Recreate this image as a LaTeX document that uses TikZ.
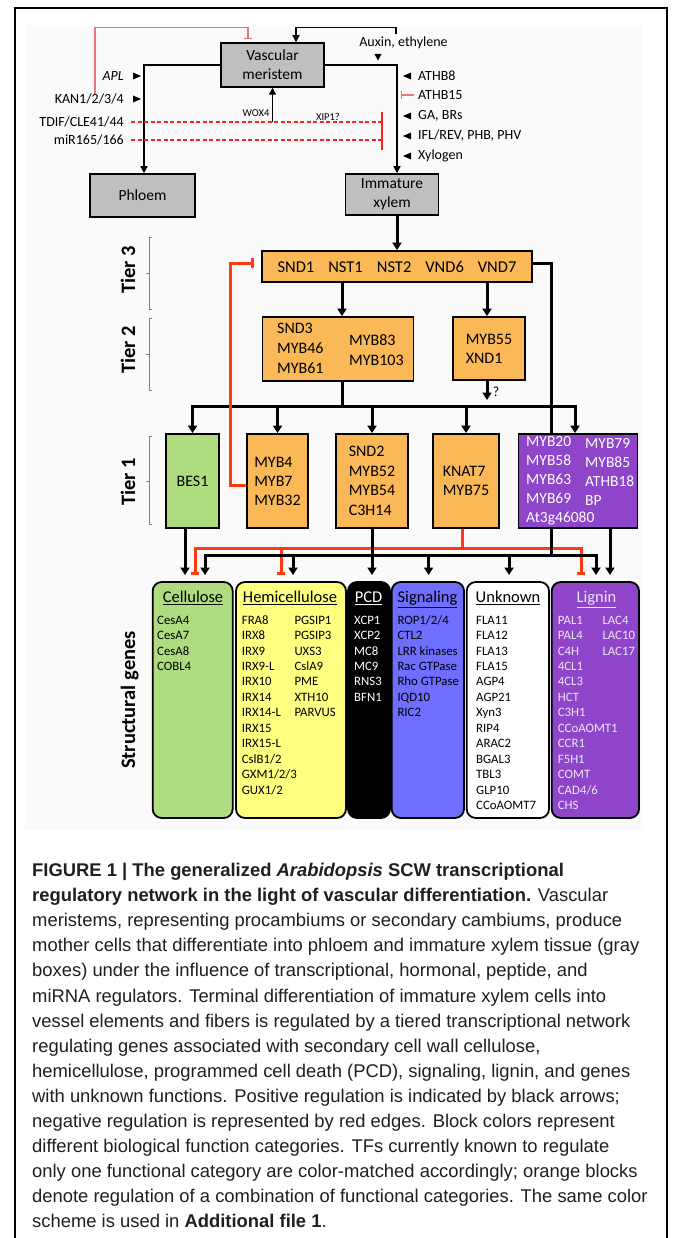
\documentclass[tikz,border=0pt]{standalone}
\usepackage{fontspec}
\setmainfont{Carlito}
\newfontfamily\capfont{Liberation Sans}
\usetikzlibrary{arrows.meta,calc}
\newcommand\fsz[2]{\fontsize{#1}{#2}\selectfont}
\definecolor{gbox}{HTML}{BFBFBF}
\definecolor{orng}{HTML}{FAB856}
\definecolor{grn}{HTML}{AFDC7E}
\definecolor{purp}{HTML}{8E45C9}
\definecolor{blu}{HTML}{6E6EFF}
\definecolor{yel}{HTML}{FFFF80}
\definecolor{lred}{HTML}{EE7575}
\definecolor{dred}{HTML}{FF2020}
\definecolor{bred}{HTML}{FF3A10}
\definecolor{ligtxt}{HTML}{EFE6F8}
\begin{document}
\begin{tikzpicture}[x=1pt,y=-1pt,
  graybox/.style={draw=black, line width=1.5pt, fill=gbox, inner sep=0pt, align=center, font=\fsz{15.5}{19}},
  tbox/.style={draw=black, line width=1.8pt, fill=orng, inner sep=0pt, align=left, font=\fsz{16}{19.5}},
  tbtxt/.style={inner sep=0pt, align=left, font=\fsz{16}{20}},
  ptxt/.style={inner sep=0pt, align=left, anchor=west, text=white, font=\fsz{15.5}{19}},
  sbox/.style={draw=black, line width=1.8pt, rounded corners=9pt, minimum height=236pt, inner sep=0pt},
  lab/.style={font=\fsz{14}{16}, inner sep=0pt},
  small/.style={font=\fsz{10.5}{12}, inner sep=0pt},
  thinln/.style={line width=1.3pt},
  thinarr/.style={thinln, -{Triangle[length=7pt,width=7pt]}},
  lredln/.style={line width=1.3pt, draw=lred},
  dashred/.style={line width=1.4pt, draw=dred, dash pattern=on 4pt off 2.5pt},
  thk/.style={line width=3pt},
  thkarr/.style={thk, -{Triangle[length=7.5pt,width=9pt]}},
  redthk/.style={line width=3pt, draw=bred},
  redbar/.style={redthk, -{Bar[width=8pt]}},
  gene/.style={font=\fsz{12.8}{15.4}, inner sep=0pt, anchor=base west},
  hdr/.style={font=\fsz{16.5}{19}, inner sep=0pt, anchor=base},
  tier/.style={font=\bfseries\fsz{20.5}{24}, rotate=90, inner sep=0pt, anchor=base},
  brk/.style={draw=black!50, line width=0.8pt},
  tri/.style={fill=black}
]
\useasboundingbox (0,0) rectangle (673,1238);
\fill[white] (0,0) rectangle (673,1238);
\fill[black!2] (25,25) rectangle (643,830);
\draw[line width=2.3pt] (15,1245) -- (15,8) -- (667,8) -- (667,1245);

% ---------- top part ----------
\node[graybox, minimum width=103pt, minimum height=44pt] (vm) at (272.5,65) {Vascular\\meristem};
\node[graybox, minimum width=105pt, minimum height=43pt] (ph) at (142.5,195.5) {Phloem};
\node[graybox, minimum width=93pt, minimum height=41pt] (xy) at (392,194.5) {Immature\\xylem};

\node[lab] (aux) at (403.5,43) {Auxin, ethylene};
\node[lab, anchor=east] (apl) at (124,76) {\textit{APL}};
\node[lab, anchor=east] (kan) at (124,99) {KAN1/2/3/4};
\node[lab, anchor=east] (tdif) at (124,122) {TDIF/CLE41/44};
\node[lab, anchor=east] (mir) at (124,140) {miR165/166};
\node[lab, anchor=west] (athb8) at (418,76) {ATHB8};
\node[lab, anchor=west] (athb15) at (418,95) {ATHB15};
\node[lab, anchor=west] (ga) at (418,116) {GA, BRs};
\node[lab, anchor=west] (ifl) at (418,136) {IFL/REV, PHB, PHV};
\node[lab, anchor=west] (xylo) at (418,156) {Xylogen};
\node[small] (wox) at (256,113) {WOX4};
\node[small] (xip) at (328,117) {XIP1?};

\draw[thinarr] (vm.west) -| ([xshift=1.5pt]ph.north);
\draw[thinarr] (vm.east) -| ([xshift=5pt]xy.north);
\draw[thinarr] ([xshift=-7.5pt,yshift=3pt]aux.north) |- ([xshift=23.5pt,yshift=15pt]vm.north) -- ([xshift=23.5pt]vm.north);
\draw[lredln, -{Bar[width=8pt]}] ([xshift=-29pt]kan.north east) |- ([xshift=-24.5pt,yshift=15pt]vm.north) -- ([xshift=-24.5pt,yshift=3pt]vm.north);

\foreach \yy in {76,99} \fill[tri] (133,\yy-3.5) -- (141,\yy) -- (133,\yy+3.5) -- cycle;
\foreach \yy in {76,116,136,156} \fill[tri] (411,\yy-3.5) -- (403,\yy) -- (411,\yy+3.5) -- cycle;
\fill[tri] (374.5,54) -- (381.5,54) -- (378,60.5) -- cycle;

\coordinate (t15) at (401,95);
\draw[lredln, -{Bar[width=8pt]}] ([xshift=-4pt]athb15.west) -- (t15);

\coordinate (xbar) at (382,131);
\coordinate (xb1) at (382,112);
\coordinate (xb2) at (382,150);
\draw[dashred] ([xshift=7pt]tdif.east) -- (xbar |- tdif.east);
\draw[dashred] ([xshift=7pt]mir.east) -- (xbar |- mir.east);
\draw[line width=2pt, draw=dred] (xb1) -- (xb2);
\draw[thinarr] (vm.south |- tdif.east) -- (vm.south);

% ---------- tiers ----------
\node[tbox, minimum width=270pt, minimum height=31pt, font=\fsz{16.5}{19}] (t3) at (397,266.5)
  {SND1\hspace{14pt}NST1\hspace{14pt}NST2\hspace{14pt}VND6\hspace{14pt}VND7};
\node[tbox, minimum width=151pt, minimum height=64pt] (t2a) at (338,349) {};
\node[tbtxt, anchor=west] (t2al) at (277,348) {SND3\\MYB46\\MYB61};
\node[tbtxt, anchor=west] (t2ar) at (349,350) {MYB83\\MYB103};
\node[tbox, minimum width=72pt, minimum height=63pt, font=\fsz{16}{19}] (t2b) at (489,348.5) {MYB55\\XND1};

\node[tbox, fill=grn, minimum width=53pt, minimum height=94pt] (bes) at (192.5,481) {BES1};
\node[tbox, minimum width=61pt, minimum height=94pt, font=\fsz{16}{19}] (m4) at (277.5,481) {MYB4\\MYB7\\MYB32};
\node[tbox, minimum width=72pt, minimum height=94pt, font=\fsz{16}{19.7}] (snd2) at (372,481) {SND2\\MYB52\\MYB54\\C3H14};
\node[tbox, minimum width=66pt, minimum height=94pt, font=\fsz{16}{19}] (kn) at (466,481) {KNAT7\\MYB75};
\node[tbox, fill=purp, minimum width=119pt, minimum height=94pt] (pur) at (578,481) {};
\node[ptxt] (purl) at (526,481) {MYB20\\MYB58\\MYB63\\MYB69\\At3g46080};
\node[ptxt] (purr) at (585,471.5) {MYB79\\MYB85\\ATHB18\\BP};

\node[tier] (tier3) at (135.2,270) {Tier 3};
\node[tier] (tier2) at (135.2,350) {Tier 2};
\node[tier] (tier1) at (135.2,482) {Tier 1};
\node[tier] (sg) at (135,700) {Structural genes};
\draw[brk] (152,237) -- (149,237) -- (149,309) -- (152,309);
\draw[brk] (149,273) -- (146,273);
\draw[brk] (152,318) -- (149,318) -- (149,390) -- (152,390);
\draw[brk] (149,354) -- (146,354);
\draw[brk] (152,436) -- (149,436) -- (149,524) -- (152,524);
\draw[brk] (149,481) -- (146,481);

\draw[thkarr] (t3.north |- xy.south) -- (t3.north);
\draw[thkarr] ([xshift=4pt]t2a.north |- t3.south) -- ([xshift=4pt]t2a.north);
\draw[thkarr] ([xshift=-2pt]t2b.north |- t3.south) -- ([xshift=-2pt]t2b.north);
\coordinate (qend) at (487,400);
\draw[thkarr] (qend |- t2b.south) -- (qend);
\node[lab] (q) at (496,392) {?};

\coordinate (busy) at (0,406);
\draw[thk] ([xshift=4pt]t2a.south) -- ([xshift=4pt]t2a.south |- busy);
\draw[thk, line cap=rect] (bes.north |- busy) -- ([xshift=-3pt]pur.north |- busy);
\foreach \n in {bes,m4,snd2,kn} \draw[thkarr] (\n.north |- busy) -- (\n.north);
\draw[thkarr] ([xshift=-3pt]pur.north |- busy) -- ([xshift=-3pt]pur.north);
\draw[thk] ([yshift=3pt]t3.east) -| ([xshift=-27pt]pur.north);
\draw[redthk, -{Bar[width=10pt]}] ([yshift=-4pt]m4.west) -- ++(-16,0) |- ([xshift=-7pt,yshift=3pt]t3.west);

% ---------- structural genes ----------
\node[sbox, fill=grn, minimum width=80pt] (cel) at (192.7,700) {};
\node[sbox, fill=yel, minimum width=110pt] (hem) at (291,700) {};
\node[sbox, fill=black, minimum width=42pt] (pcd) at (369,700) {};
\node[sbox, fill=blu, minimum width=72.3pt] (sig) at (427.85,700) {};
\node[sbox, fill=white, minimum width=82.3pt] (unk) at (507.85,700) {};
\node[sbox, fill=purp, minimum width=87.3pt] (lig) at (595.35,700) {};

\node[hdr] (celh) at (193,602.5) {\underline{Cellulose}};
\node[hdr] (hemh) at (290,602.5) {\underline{Hemicellulose}};
\node[hdr, text=white] (pcdh) at (368.5,602.5) {\underline{PCD}};
\node[hdr] (sigh) at (427.5,602.5) {\underline{Signaling}};
\node[hdr] (unkh) at (508,602.5) {\underline{Unknown}};
\node[hdr, text=ligtxt] (ligh) at (596.5,602.5) {\underline{Lignin}};

\foreach \t [count=\i] in {CesA4,CesA7,CesA8,COBL4}
  \node[gene] (cel-\i) at (157,{624.1+15.45*(\i-1)}) {\t};
\foreach \t [count=\i] in {FRA8,IRX8,IRX9,IRX9-L,IRX10,IRX14,IRX14-L,IRX15,IRX15-L,CslB1/2,GXM1/2/3,GUX1/2}
  \node[gene] (hemL-\i) at (241.7,{624.1+15.45*(\i-1)}) {\t};
\foreach \t [count=\i] in {PGSIP1,PGSIP3,UXS3,CslA9,PME,XTH10,PARVUS}
  \node[gene] (hemR-\i) at (294.3,{624.1+15.45*(\i-1)}) {\t};
\foreach \t [count=\i] in {XCP1,XCP2,MC8,MC9,RNS3,BFN1}
  \node[gene, text=white] (pcd-\i) at (354,{624.1+15.45*(\i-1)}) {\t};
\foreach \t [count=\i] in {ROP1/2/4,CTL2,LRR kinases,Rac GTPase,Rho GTPase,IQD10,RIC2}
  \node[gene] (sig-\i) at (397.3,{624.1+15.45*(\i-1)}) {\t};
\foreach \t [count=\i] in {FLA11,FLA12,FLA13,FLA15,AGP4,AGP21,Xyn3,RIP4,ARAC2,BGAL3,TBL3,GLP10,CCoAOMT7}
  \node[gene] (unk-\i) at (476,{624.1+15.45*(\i-1)}) {\t};
\foreach \t [count=\i] in {PAL1,PAL4,C4H,4CL1,4CL3,HCT,C3H1,CCoAOMT1,CCR1,F5H1,COMT,CAD4/6,CHS}
  \node[gene, text=ligtxt] (ligL-\i) at (557.7,{624.1+15.45*(\i-1)}) {\t};
\foreach \t [count=\i] in {LAC4,LAC10,LAC17}
  \node[gene, text=ligtxt] (ligR-\i) at (602.3,{624.1+15.45*(\i-1)}) {\t};

% connectors tier 1 -> structural
\coordinate (rbus) at (0,548);
\coordinate (bbus) at (0,555);
\coordinate (endy) at (0,575);
\draw[redthk] ([xshift=-3.5pt]kn.south) -- ([xshift=-3.5pt]kn.south |- rbus);
\draw[redthk, line cap=rect] ([xshift=2.3pt]cel.north |- rbus) -- ([xshift=-14.3pt]lig.north |- rbus);
\draw[redbar] ([xshift=2.3pt]cel.north |- rbus) -- ([xshift=2.3pt]cel.north |- endy);
\draw[redbar] ([xshift=-10pt]hem.north |- rbus) -- ([xshift=-10pt]hem.north |- endy);
\draw[redbar] ([xshift=-14.3pt]lig.north |- rbus) -- ([xshift=-14.3pt]lig.north |- endy);

\draw[thk] ([xshift=-27pt]pur.south) -- ([xshift=-27pt]pur.south |- bbus);
\draw[thk, line cap=rect] ([xshift=12.3pt]cel.north |- bbus) -- ([xshift=0.65pt]lig.north |- bbus);
\draw[thkarr] ([xshift=12.3pt]cel.north |- bbus) -- ([xshift=12.3pt]cel.north |- endy);
\draw[thkarr] ([xshift=2pt]hem.north |- bbus) -- ([xshift=2pt]hem.north |- endy);
\draw[thkarr] ([xshift=0.75pt]sig.north |- bbus) -- ([xshift=0.75pt]sig.north |- endy);
\draw[thkarr] ([xshift=1.15pt]unk.north |- bbus) -- ([xshift=1.15pt]unk.north |- endy);
\draw[thkarr] ([xshift=0.65pt]lig.north |- bbus) -- ([xshift=0.65pt]lig.north |- endy);
\draw[thkarr] (snd2.south) -- (snd2.south |- endy);
\draw[thkarr] ([xshift=32pt]pur.south) -- ([xshift=32pt]pur.south |- endy);
\draw[thkarr] ([xshift=-7.5pt]bes.south) -- ([xshift=-7.5pt]bes.south |- endy);

% ---------- caption ----------
\node[anchor=north west, inner sep=0pt, align=left, text=black!88, font=\capfont\fsz{18.4}{25.1}] (cap) at (32,863) {%
\textbf{FIGURE 1 | The generalized \textit{Arabidopsis} SCW transcriptional}\\
\textbf{regulatory network in the light of vascular differentiation.} Vascular\\
meristems, representing procambiums or secondary cambiums, produce\\
mother cells that differentiate into phloem and immature xylem tissue (gray\\
boxes) under the influence of transcriptional, hormonal, peptide, and\\
miRNA regulators. Terminal differentiation of immature xylem cells into\\
vessel elements and fibers is regulated by a tiered transcriptional network\\
regulating genes associated with secondary cell wall cellulose,\\
hemicellulose, programmed cell death (PCD), signaling, lignin, and genes\\
with unknown functions. Positive regulation is indicated by black arrows;\\
negative regulation is represented by red edges. Block colors represent\\
different biological function categories. TFs currently known to regulate\\
only one functional category are color-matched accordingly; orange blocks\\
denote regulation of a combination of functional categories. The same color\\
scheme is used in \textbf{Additional file 1}.};
\end{tikzpicture}
\end{document}
